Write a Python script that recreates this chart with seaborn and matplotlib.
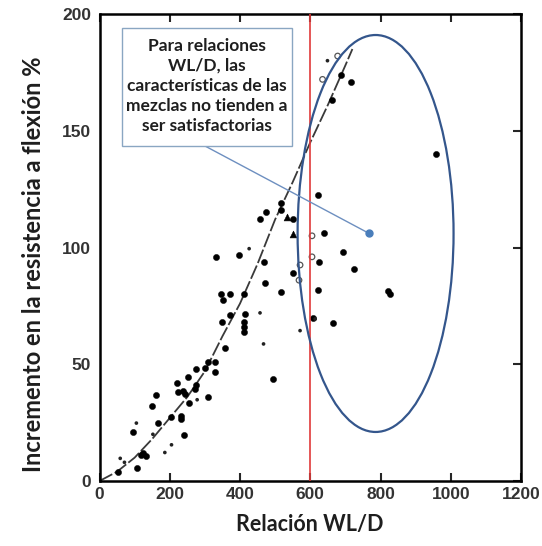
import matplotlib
matplotlib.use("Agg")
import matplotlib.pyplot as plt
import seaborn as sns
import pandas as pd
from matplotlib.patches import Ellipse, Rectangle

# ---------------- data ----------------
filled_x = [687, 716, 663, 957, 621, 517, 474, 458, 517, 550, 640, 397, 331, 467, 626,
            692, 725, 550, 471, 517, 621, 820, 826, 345, 352, 371, 412, 414, 411, 411,
            411, 348, 371, 607, 665, 357, 493, 310, 329, 329, 300, 276, 252, 274, 271,
            222, 224, 238, 243, 308, 254, 160, 150, 203, 233, 233, 167, 95, 241, 124,
            133, 119, 108, 52]
filled_y = [174, 171, 163, 140, 122.5, 119, 115, 112, 116, 112, 106, 97, 96, 94, 94,
            98, 91, 89, 85, 81, 82, 81.5, 80, 80, 77.5, 80, 80, 71.5, 68, 65.8,
            63.6, 68, 71, 70, 67.5, 57, 43.5, 51, 51, 46.5, 48.5, 48, 44.6, 41, 39.3,
            42, 38, 38.6, 37.2, 36, 33.3, 37, 32, 27.6, 28, 26.5, 25, 20.8, 19.6, 12.2,
            10.8, 11, 5.5, 4]
small_x = [649, 426, 457, 278, 105, 152, 205, 186, 59, 71, 467, 571, 614]
small_y = [180, 99.5, 72, 34.8, 24.8, 20, 15.5, 12.2, 9.7, 8, 58.7, 64.4, 69.4]
tri_x = [535, 552]
tri_y = [113, 105.6]
open_x = [678, 635, 605, 605, 571, 568]
open_y = [182, 172, 105, 96, 92.5, 86]

curve_x = [0, 50, 100, 150, 200, 250, 300, 350, 400, 450, 500, 550, 600, 650, 700, 720]
curve_y = [0, 4, 10, 18, 27, 36, 47, 62, 76, 93, 112, 128, 145, 161, 178, 185]

limit_x = 600
ellipse_center = (786, 106)
ellipse_size = (444, 170)
note_text = ("Para relaciones\nWL/D, las\ncaracterísticas de las\n"
             "mezclas no tienden a\nser satisfactorias")
note_box = (63, 143.5, 485, 50.5)   # x, y, width, height
note_from = (300, 143.5)
note_to = (768, 106)

x_ticks = [0, 200, 400, 600, 800, 1000, 1200]
y_ticks = [0, 50, 100, 150, 200]
x_label = "Relación WL/D"
y_label = "Incremento en la resistencia a flexión %"

# ---------------- plot ----------------
sns.set_style("white")
plt.rcParams["font.family"] = ["Lato", "DejaVu Sans"]

fig = plt.figure(figsize=(5.42, 5.46), dpi=100)
ax = fig.add_axes([99.5 / 542, 1 - 481 / 546, (521 - 99.5) / 542, (481 - 14) / 546])

df_f = pd.DataFrame({"x": filled_x, "y": filled_y})
df_s = pd.DataFrame({"x": small_x, "y": small_y})
df_t = pd.DataFrame({"x": tri_x, "y": tri_y})
df_o = pd.DataFrame({"x": open_x, "y": open_y})
df_c = pd.DataFrame({"x": curve_x, "y": curve_y})

sns.lineplot(data=df_c, x="x", y="y", ax=ax, sort=False, estimator=None,
             color="#3a3a3a", lw=1.3, linestyle=(0, (8, 1.5)), zorder=2)
sns.scatterplot(data=df_f, x="x", y="y", ax=ax, color="black", s=20,
                edgecolor="black", linewidth=0.3, zorder=3)
sns.scatterplot(data=df_s, x="x", y="y", ax=ax, color="#222222", s=7,
                edgecolor="none", zorder=3)
sns.scatterplot(data=df_t, x="x", y="y", ax=ax, color="black", marker="^", s=24,
                edgecolor="black", zorder=3)
sns.scatterplot(data=df_o, x="x", y="y", ax=ax, facecolor="none", s=16,
                edgecolor="#555555", linewidth=0.9, zorder=3)

ax.axvline(limit_x, color="#e03a3a", lw=1.2, zorder=4)

ax.add_patch(Ellipse(ellipse_center, ellipse_size[0], ellipse_size[1],
                     fill=False, edgecolor="#34568c", lw=1.6, zorder=5))

ax.plot([note_from[0], note_to[0]], [note_from[1], note_to[1]],
        color="#6d8fc0", lw=1.0, zorder=5)
ax.plot([note_to[0]], [note_to[1]], "o", color="#4a7ebb", ms=5, zorder=6)

ax.add_patch(Rectangle((note_box[0], note_box[1]), note_box[2], note_box[3],
                       facecolor="white", edgecolor="#8aa6c2", lw=1.0, zorder=6))
ax.text(note_box[0] + note_box[2] / 2, note_box[1] + note_box[3] / 2 + 0.5, note_text,
        ha="center", va="center", fontsize=12.5, fontweight="bold", color="#1e1e1e",
        linespacing=1.3, zorder=7)

ax.set_xlim(0, 1200)
ax.set_ylim(0, 200)
ax.set_xticks(x_ticks)
ax.set_yticks(y_ticks)
ax.set_xticklabels([str(t) for t in x_ticks], fontfamily="Liberation Sans",
                   fontweight="bold", fontsize=12.5, color="#333333")
ax.set_yticklabels([str(t) for t in y_ticks], fontfamily="Liberation Sans",
                   fontweight="bold", fontsize=12.5, color="#333333")
ax.tick_params(axis="x", direction="in", length=6, width=1.5, top=True, bottom=True, pad=4)
ax.tick_params(axis="y", which="both", direction="in", length=6, width=1.5,
               left=False, right=True, pad=6)

for sp in ax.spines.values():
    sp.set_visible(True)
    sp.set_color("black")
    sp.set_linewidth(1.8)

ax.set_xlabel(x_label, fontsize=15.5, fontweight="bold", color="#1e1e1e", labelpad=9)
ax.set_ylabel(y_label, fontsize=17, fontweight="bold", color="#1e1e1e")
ax.yaxis.set_label_coords(-0.13, 0.465)

fig.savefig("out.png", dpi=100)
